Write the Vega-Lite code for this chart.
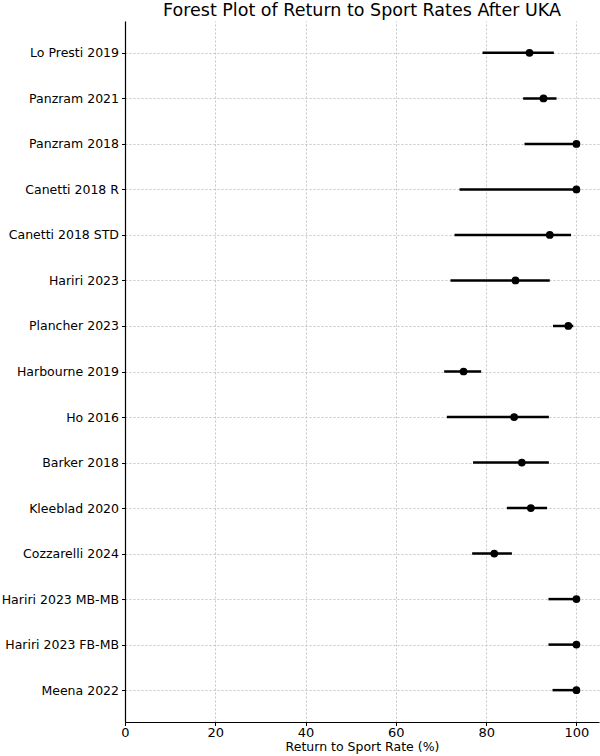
{
  "$schema": "https://vega.github.io/schema/vega-lite/v6.json",
  "width": 474,
  "height": 701,
  "autosize": "none",
  "padding": {"left": 125, "top": 21, "right": 1, "bottom": 34},
  "title": {"text": "Forest Plot of Return to Sport Rates After UKA", "font": "DejaVu Sans", "fontSize": 17.5, "fontWeight": "normal", "color": "black", "anchor": "middle", "offset": 2},
  "config": {
    "view": {"stroke": null},
    "font": "DejaVu Sans",
    "axis": {
      "labelFont": "DejaVu Sans", "labelFontSize": 12.5, "labelColor": "black",
      "titleFont": "DejaVu Sans", "titleFontSize": 12.5, "titleFontWeight": "normal", "titleColor": "black",
      "domainColor": "black", "domainWidth": 1.2, "tickColor": "black", "tickSize": 3.5, "tickWidth": 1,
      "gridColor": "#b8b8b8", "gridDash": [2, 2], "gridWidth": 0.8
    }
  },
  "data": {
    "values": [
      {"study": "Lo Presti 2019", "rate": 89.6, "lo": 79.2, "hi": 95.0},
      {"study": "Panzram 2021", "rate": 92.7, "lo": 88.2, "hi": 95.6},
      {"study": "Panzram 2018", "rate": 100, "lo": 88.5, "hi": 100},
      {"study": "Canetti 2018 R", "rate": 100, "lo": 74.1, "hi": 100},
      {"study": "Canetti 2018 STD", "rate": 94.1, "lo": 73.0, "hi": 98.8},
      {"study": "Hariri 2023", "rate": 86.5, "lo": 72.1, "hi": 94.1},
      {"study": "Plancher 2023", "rate": 98.2, "lo": 94.8, "hi": 99.3},
      {"study": "Harbourne 2019", "rate": 75.0, "lo": 70.7, "hi": 78.9},
      {"study": "Ho 2016", "rate": 86.2, "lo": 71.3, "hi": 93.9},
      {"study": "Barker 2018", "rate": 87.9, "lo": 77.1, "hi": 93.9},
      {"study": "Kleeblad 2020", "rate": 89.9, "lo": 84.6, "hi": 93.5},
      {"study": "Cozzarelli 2024", "rate": 81.8, "lo": 76.9, "hi": 85.7},
      {"study": "Hariri 2023 MB-MB", "rate": 100, "lo": 93.8, "hi": 100},
      {"study": "Hariri 2023 FB-MB", "rate": 100, "lo": 93.8, "hi": 100},
      {"study": "Meena 2022", "rate": 100, "lo": 94.7, "hi": 100}
    ]
  },
  "encoding": {
    "y": {
      "field": "study", "type": "nominal", "sort": null,
      "scale": {"type": "point", "padding": 0.7},
      "axis": {"title": null, "grid": true, "labelPadding": 3}
    }
  },
  "layer": [
    {
      "mark": {"type": "rule", "color": "black", "strokeWidth": 2.5},
      "encoding": {
        "x": {"field": "lo", "type": "quantitative", "scale": {"domain": [0, 105], "nice": false, "zero": false},
              "axis": {"title": "Return to Sport Rate (%)", "values": [0, 20, 40, 60, 80, 100], "grid": true, "labelFontSize": 13, "labelPadding": 1, "titlePadding": 1, "labelFlush": false}},
        "x2": {"field": "hi"}
      }
    },
    {
      "mark": {"type": "circle", "color": "black", "opacity": 1, "size": 60},
      "encoding": {
        "x": {"field": "rate", "type": "quantitative"}
      }
    }
  ]
}
